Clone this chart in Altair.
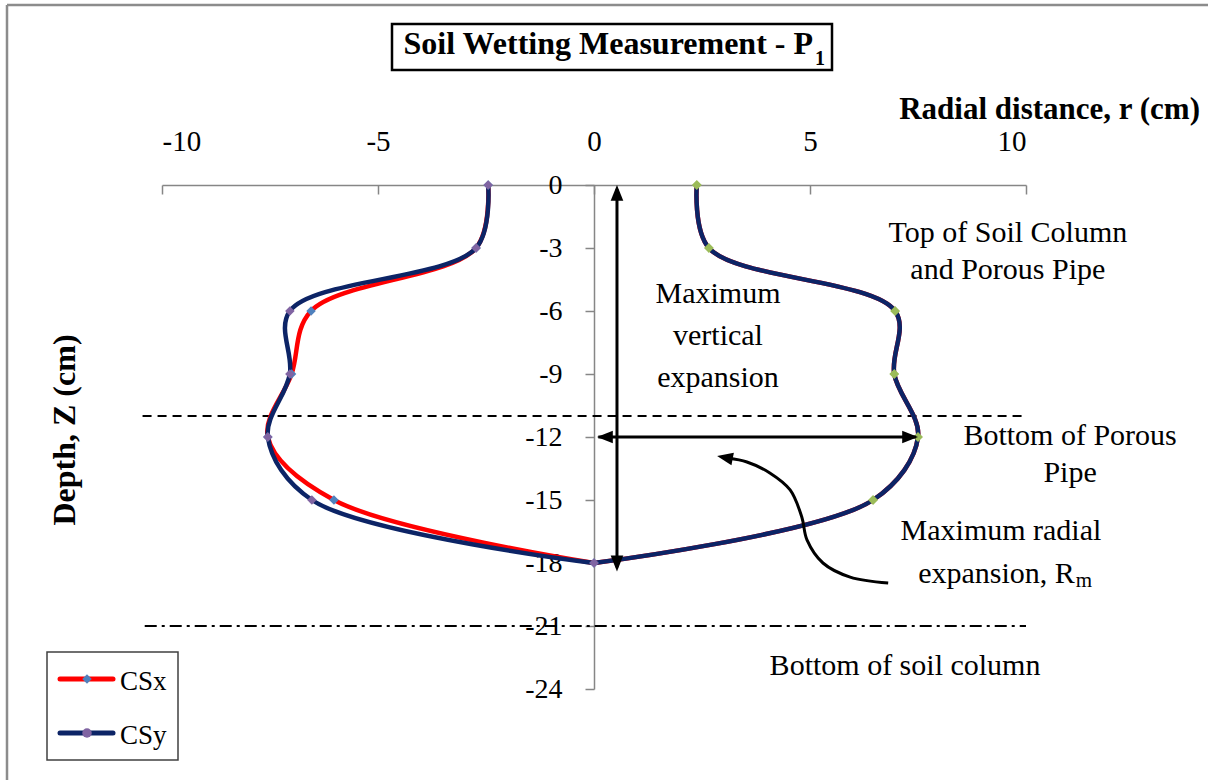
import altair as alt
import pandas as pd

FONT = "Liberation Serif"

# Wetting-front radius (cm) at each depth (cm)
depth_left = [0, -3, -6, -9, -12, -15, -18]
csx_left = [-2.45, -2.73, -6.55, -7.00, -7.55, -6.02, 0.0]
csy_left = [-2.45, -2.73, -7.04, -7.04, -7.55, -6.53, 0.0]
depth_right = [-18, -15, -12, -9, -6, -3, 0]
csx_right = [0.0, 6.46, 7.50, 6.95, 6.97, 2.66, 2.38]
csy_right = [0.0, 6.46, 7.50, 6.95, 6.97, 2.66, 2.38]

series_names = ["CSx", "CSy"]
series_colors = ["#FF0000", "#0C2466"]
left_marker_colors = ["#4F81BD", "#8064A2"]
right_marker_color = "#9BBB59"

x_ticks = [-10, -5, 0, 5, 10]
y_ticks = [0, -3, -6, -9, -12, -15, -18, -21, -24]

rows = []
for name, lx, rx, mcol in zip(series_names, [csx_left, csy_left], [csx_right, csy_right], left_marker_colors):
    k = 0
    for z, r in zip(depth_left, lx):
        rows.append({"series": name, "branch": name + "-L", "r": r, "z": z, "k": k, "marker": mcol, "show": True})
        k += 1
    for i, (z, r) in enumerate(zip(depth_right, rx)):
        rows.append({"series": name, "branch": name + "-R", "r": r, "z": z, "k": k,
                     "marker": right_marker_color, "show": i > 0})
        k += 1
profile = pd.DataFrame(rows)

xs = alt.Scale(domain=[-10, 10], nice=False, zero=False)
ys = alt.Scale(domain=[-24, 0], nice=False, zero=False)

X = alt.X("r:Q", scale=xs, axis=alt.Axis(
    values=x_ticks, orient="bottom", offset=-504, title=None, grid=False,
    tickSize=9, labelPadding=-44, labelBaseline="alphabetic",
    labelExpr="'' + datum.value", labelFont=FONT, labelFontSize=29))
Y = alt.Y("z:Q", scale=ys, axis=alt.Axis(
    values=y_ticks, orient="left", offset=-432, title=None, grid=False,
    tickSize=9, labelPadding=23, labelExpr="'' + datum.value", labelFont=FONT, labelFontSize=28))

# reference depth lines
ref = pd.DataFrame({"r": [-10.45, -10.4], "r2": [10, 10], "z": [-11, -21], "kind": ["dash", "dashdot"]})
dash_line = alt.Chart(ref[ref.kind == "dash"]).mark_rule(color="black", strokeWidth=2, strokeDash=[9, 6]).encode(
    x=alt.X("r:Q", scale=xs), x2="r2", y=alt.Y("z:Q", scale=ys))
dashdot_line = alt.Chart(ref[ref.kind == "dashdot"]).mark_rule(color="black", strokeWidth=2, strokeDash=[12, 5, 3, 5]).encode(
    x=alt.X("r:Q", scale=xs), x2="r2", y=alt.Y("z:Q", scale=ys))

lines = alt.Chart(profile).mark_line(interpolate="catmull-rom", strokeWidth=4.5, strokeJoin="round").encode(
    x=X, y=Y,
    color=alt.Color("series:N", scale=alt.Scale(domain=series_names, range=series_colors), legend=None),
    detail="branch:N",
    order="k:Q")

markers = alt.Chart(profile).transform_filter("datum.show").mark_point(
    shape="diamond", filled=True, size=90, opacity=1).encode(
    x=alt.X("r:Q", scale=xs), y=alt.Y("z:Q", scale=ys),
    fill=alt.Fill("marker:N", scale=None))

# arrows
shafts = pd.DataFrame({"r": [0.532, 0.10], "r2": [0.532, 7.45], "z": [-0.2, -12], "z2": [-18.2, -12]})
shaft_marks = alt.Chart(shafts).mark_rule(color="black", strokeWidth=3).encode(
    x=alt.X("r:Q", scale=xs), x2="r2", y=alt.Y("z:Q", scale=ys), y2="z2")

heads = pd.DataFrame({
    "r": [0.532, 0.532, 0.07, 7.50, 2.85],
    "z": [0.0, -18.4, -12, -12, -12.9],
    "ang": [0, 180, 270, 90, 281],
})
ARROW = "M0,0L-0.4,1L0.4,1Z"
head_marks = alt.Chart(heads).mark_point(shape=ARROW, filled=True, size=1000, color="black", opacity=1).encode(
    x=alt.X("r:Q", scale=xs), y=alt.Y("z:Q", scale=ys), angle=alt.Angle("ang:Q", scale=None))

curve = pd.DataFrame({
    "r": [6.81, 5.93, 5.30, 4.93, 4.81, 4.54, 4.07, 3.54, 3.10],
    "z": [-18.95, -18.67, -18.0, -16.9, -15.81, -14.52, -13.71, -13.19, -13.0],
    "k": list(range(9)),
})
curve_mark = alt.Chart(curve).mark_line(interpolate="catmull-rom", color="black", strokeWidth=3).encode(
    x=alt.X("r:Q", scale=xs), y=alt.Y("z:Q", scale=ys), order="k:Q")

# annotations
notes = pd.DataFrame([
    {"t": "Maximum", "r": 2.87, "z": -5.62},
    {"t": "vertical", "r": 2.87, "z": -7.62},
    {"t": "expansion", "r": 2.87, "z": -9.62},
    {"t": "Top of Soil Column", "r": 9.58, "z": -2.71},
    {"t": "and Porous Pipe", "r": 9.58, "z": -4.48},
    {"t": "Bottom of Porous", "r": 11.02, "z": -12.38},
    {"t": "Pipe", "r": 11.02, "z": -14.14},
    {"t": "Maximum radial", "r": 9.42, "z": -16.9},
    {"t": "Bottom of soil column", "r": 7.2, "z": -23.33},
])
note_marks = alt.Chart(notes).mark_text(font=FONT, fontSize=30, baseline="alphabetic", align="center", color="black").encode(
    x=alt.X("r:Q", scale=xs), y=alt.Y("z:Q", scale=ys), text="t:N")

rm = pd.DataFrame({"t": ["expansion, R"], "r": [11.13], "z": [-18.95]})
rm_mark = alt.Chart(rm).mark_text(font=FONT, fontSize=30, baseline="alphabetic", align="right", color="black").encode(
    x=alt.X("r:Q", scale=xs), y=alt.Y("z:Q", scale=ys), text="t:N")
sub = pd.DataFrame({"t": ["m"], "r": [11.15], "z": [-19.14]})
sub_mark = alt.Chart(sub).mark_text(font=FONT, fontSize=21, baseline="alphabetic", align="left", color="black").encode(
    x=alt.X("r:Q", scale=xs), y=alt.Y("z:Q", scale=ys), text="t:N")

one = pd.DataFrame({"v": [0]})

# chart frame
frame_left = alt.Chart(one).mark_rule(color="#8C8C8C", strokeWidth=2.5).encode(
    x=alt.value(-155), y=alt.value(-180), y2=alt.value(600))
frame_top = alt.Chart(one).mark_rule(color="#8C8C8C", strokeWidth=2.5).encode(
    x=alt.value(-155), x2=alt.value(1050), y=alt.value(-180))

# title box
title_box = alt.Chart(one).mark_rect(fill="white", stroke="black", strokeWidth=2.5).encode(
    x=alt.value(230), x2=alt.value(670), y=alt.value(-161), y2=alt.value(-115))
title_text = alt.Chart(one).mark_text(font=FONT, fontSize=32, fontWeight="bold", align="right", baseline="alphabetic").encode(
    x=alt.value(651), y=alt.value(-131), text=alt.value("Soil Wetting Measurement - P"))
title_sub = alt.Chart(one).mark_text(font=FONT, fontSize=20, fontWeight="bold", align="left", baseline="alphabetic").encode(
    x=alt.value(653), y=alt.value(-120), text=alt.value("1"))

# axis titles
x_title = alt.Chart(one).mark_text(font=FONT, fontSize=31, fontWeight="bold", align="right", baseline="alphabetic").encode(
    x=alt.value(1038), y=alt.value(-66), text=alt.value("Radial distance, r (cm)"))
y_title = alt.Chart(one).mark_text(font=FONT, fontSize=32, fontWeight="bold", align="center", baseline="middle", angle=270).encode(
    x=alt.value(-97), y=alt.value(245), text=alt.value("Depth, Z (cm)"))

# legend
leg = pd.DataFrame({
    "name": series_names, "color": series_colors, "mk": left_marker_colors,
    "shape": ["diamond", "circle"], "y": [494, 548],
})
leg_box = alt.Chart(one).mark_rect(fill="white", stroke="#404040", strokeWidth=1.5).encode(
    x=alt.value(-115), x2=alt.value(16), y=alt.value(467), y2=alt.value(575))
leg_lines = alt.Chart(leg).mark_rule(strokeWidth=5, strokeCap="round").encode(
    x=alt.value(-102), x2=alt.value(-49), y=alt.Y("y:Q", scale=None), color=alt.Color("color:N", scale=None))
leg_marks = alt.Chart(leg).mark_point(filled=True, size=90, opacity=1).encode(
    x=alt.value(-75), y=alt.Y("y:Q", scale=None), fill=alt.Fill("mk:N", scale=None),
    shape=alt.Shape("shape:N", scale=None))
leg_text = alt.Chart(leg).transform_calculate(ty="datum.y + 11").mark_text(
    font=FONT, fontSize=27, align="left", baseline="alphabetic", color="black").encode(
    x=alt.value(-42), y=alt.Y("ty:Q", scale=None), text="name:N")

chart = alt.layer(
    frame_left, frame_top, dash_line, dashdot_line, lines, markers,
    shaft_marks, curve_mark, head_marks, note_marks, rm_mark, sub_mark,
    title_box, title_text, title_sub, x_title, y_title,
    leg_box, leg_lines, leg_marks, leg_text,
).properties(
    width=864, height=504,
    autosize=alt.AutoSizeParams(type="none"),
    padding={"left": 162, "top": 185, "right": 182, "bottom": 91},
    background="white",
).configure_view(strokeWidth=0).configure_axis(
    labelFont=FONT, labelColor="black", domainColor="#868686", tickColor="#868686",
    domainWidth=1.5, tickWidth=1.5,
)

chart.save("out.html", embed_options={"renderer": "svg", "actions": False})
